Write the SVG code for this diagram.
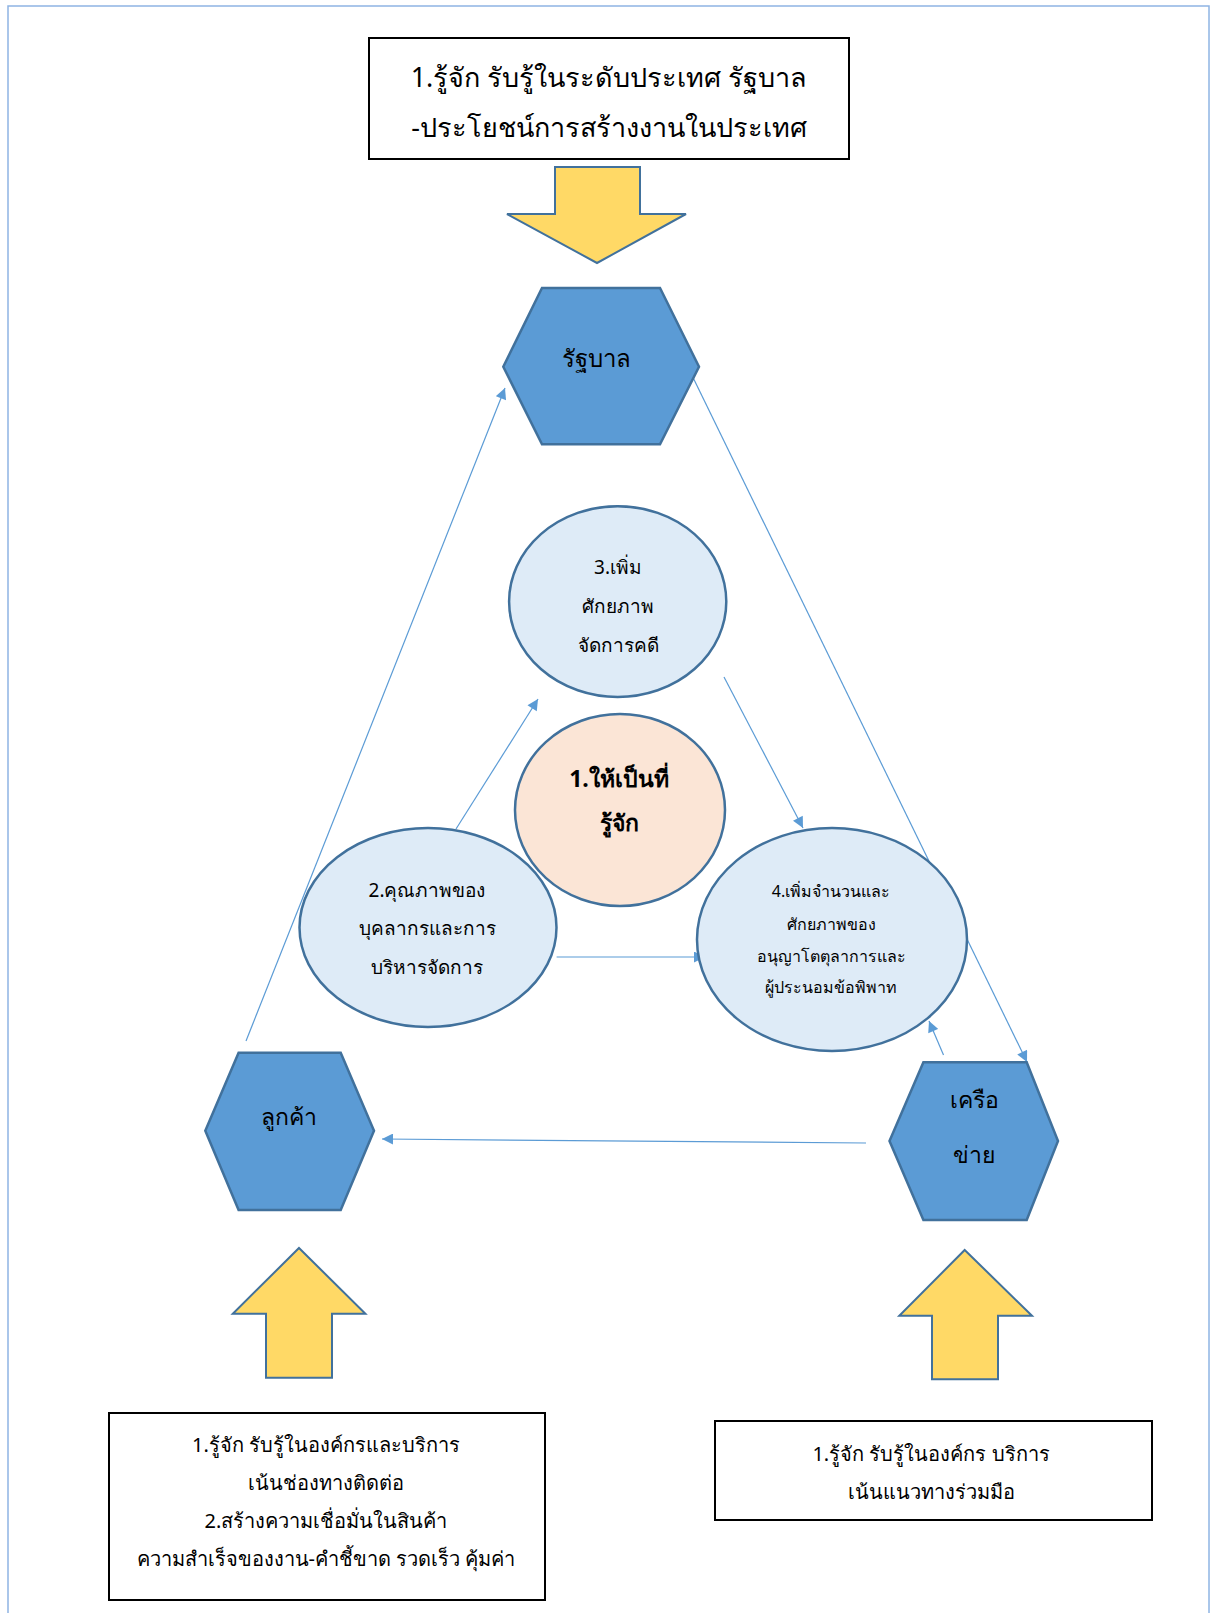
<svg xmlns="http://www.w3.org/2000/svg" width="1211" height="1613" viewBox="0 0 1211 1613">
  <defs>
    <marker id="tri" viewBox="0 0 10 10" refX="10" refY="5" markerUnits="userSpaceOnUse" markerWidth="12" markerHeight="11" orient="auto">
      <path d="M0,0 L10,5 L0,10 z" fill="#5B9BD5"/>
    </marker>
    <style>
      text { font-family: "Noto Sans", "DejaVu Sans", sans-serif; fill: #000; text-anchor: middle; }
      .hex { fill: #5B9BD5; stroke: #41719C; stroke-width: 2.5; stroke-linejoin: miter; }
      .bubble { fill: #DEEBF7; stroke: #41719C; stroke-width: 2.5; }
      .core { fill: #FBE5D6; stroke: #41719C; stroke-width: 2.5; }
      .block { fill: #FFD966; stroke: #41719C; stroke-width: 2; }
      .note { fill: #FFFFFF; stroke: #000; stroke-width: 2; }
      .link { fill: none; stroke: #5B9BD5; stroke-width: 1.2; marker-end: url(#tri); }
    </style>
  </defs>

  <rect x="0" y="0" width="1211" height="1613" fill="#FFFFFF"/>
  <!-- page frame -->
  <rect x="8" y="6" width="1201" height="1640" fill="none" stroke="#8EB4E3" stroke-width="1.5"/>

  <!-- connectors -->
  <g id="connectors">
    <line class="link" x1="246" y1="1041" x2="505" y2="388"/>
    <line class="link" x1="693.5" y1="378.6" x2="1027" y2="1062"/>
    <line class="link" x1="456" y1="829" x2="538" y2="699"/>
    <line class="link" x1="724" y1="677" x2="803" y2="828"/>
    <line class="link" x1="556.6" y1="957" x2="705" y2="957"/>
    <line class="link" x1="943.5" y1="1055" x2="929" y2="1021"/>
    <line class="link" x1="866" y1="1143" x2="382" y2="1139"/>
  </g>

  <!-- top note -->
  <g id="note-government">
    <rect class="note" x="369" y="38" width="480" height="121"/>
    <text x="609" y="87" font-size="27">1.รู้จัก รับรู้ในระดับประเทศ รัฐบาล</text>
    <text x="609" y="137" font-size="27">-ประโยชน์การสร้างงานในประเทศ</text>
  </g>

  <g id="arrow-down">
    <polygon class="block" points="555,167 640,167 640,214 686,214 597,263 507,214 555,214"/>
  </g>

  <g id="node-government">
    <polygon class="hex" points="542,288 660,288 699,366.7 660,444.3 542,444.3 503.3,366.7"/>
    <text x="596" y="367" font-size="24">รัฐบาล</text>
  </g>

  <g id="node-capacity">
    <ellipse class="bubble" cx="617.7" cy="601.6" rx="108.6" ry="95.4"/>
    <text x="618" y="574" font-size="19">3.เพิ่ม</text>
    <text x="618" y="613" font-size="19">ศักยภาพ</text>
    <text x="618" y="652" font-size="19">จัดการคดี</text>
  </g>

  <g id="node-core">
    <ellipse class="core" cx="620" cy="810" rx="105" ry="96"/>
    <text x="619" y="787" font-size="23" font-weight="bold">1.ให้เป็นที่</text>
    <text x="619" y="831" font-size="23" font-weight="bold">รู้จัก</text>
  </g>

  <g id="node-quality">
    <ellipse class="bubble" cx="428" cy="927.5" rx="128.5" ry="99.5"/>
    <text x="427" y="896.5" font-size="19">2.คุณภาพของ</text>
    <text x="427" y="935" font-size="19">บุคลากรและการ</text>
    <text x="427" y="974" font-size="19">บริหารจัดการ</text>
  </g>

  <g id="node-arbitrators">
    <ellipse class="bubble" cx="832" cy="939.5" rx="135" ry="111.5"/>
    <text x="831" y="897" font-size="16">4.เพิ่มจำนวนและ</text>
    <text x="831" y="930" font-size="16">ศักยภาพของ</text>
    <text x="831" y="962" font-size="16">อนุญาโตตุลาการและ</text>
    <text x="831" y="993" font-size="16">ผู้ประนอมข้อพิพาท</text>
  </g>

  <g id="node-customer">
    <polygon class="hex" points="238.6,1052.7 340.7,1052.7 374,1130.7 340.7,1210 238.6,1210 205.3,1130.7"/>
    <text x="289" y="1125" font-size="23">ลูกค้า</text>
  </g>

  <g id="node-network">
    <polygon class="hex" points="923.4,1062.3 1026.7,1062.3 1058,1141 1026.7,1220 923.4,1220 889.5,1141"/>
    <text x="974" y="1108" font-size="23">เครือ</text>
    <text x="974" y="1163" font-size="23">ข่าย</text>
  </g>

  <g id="arrow-up-customer">
    <polygon class="block" points="299,1248 365.4,1313.7 332,1313.7 332,1377.7 266,1377.7 266,1313.7 232.8,1313.7"/>
  </g>
  <g id="arrow-up-network">
    <polygon class="block" points="964.7,1250 1032,1315.7 998,1315.7 998,1379.3 932,1379.3 932,1315.7 899.3,1315.7"/>
  </g>

  <g id="note-customer">
    <rect class="note" x="109" y="1413" width="436" height="187"/>
    <text x="326" y="1452" font-size="20">1.รู้จัก รับรู้ในองค์กรและบริการ</text>
    <text x="326" y="1490" font-size="20">เน้นช่องทางติดต่อ</text>
    <text x="326" y="1528" font-size="20">2.สร้างความเชื่อมั่นในสินค้า</text>
    <text x="326" y="1566" font-size="20">ความสำเร็จของงาน-คำชี้ขาด รวดเร็ว คุ้มค่า</text>
  </g>

  <g id="note-network">
    <rect class="note" x="715" y="1421" width="437" height="99"/>
    <text x="931" y="1461" font-size="20">1.รู้จัก รับรู้ในองค์กร บริการ</text>
    <text x="931" y="1499" font-size="20">เน้นแนวทางร่วมมือ</text>
  </g>
</svg>
